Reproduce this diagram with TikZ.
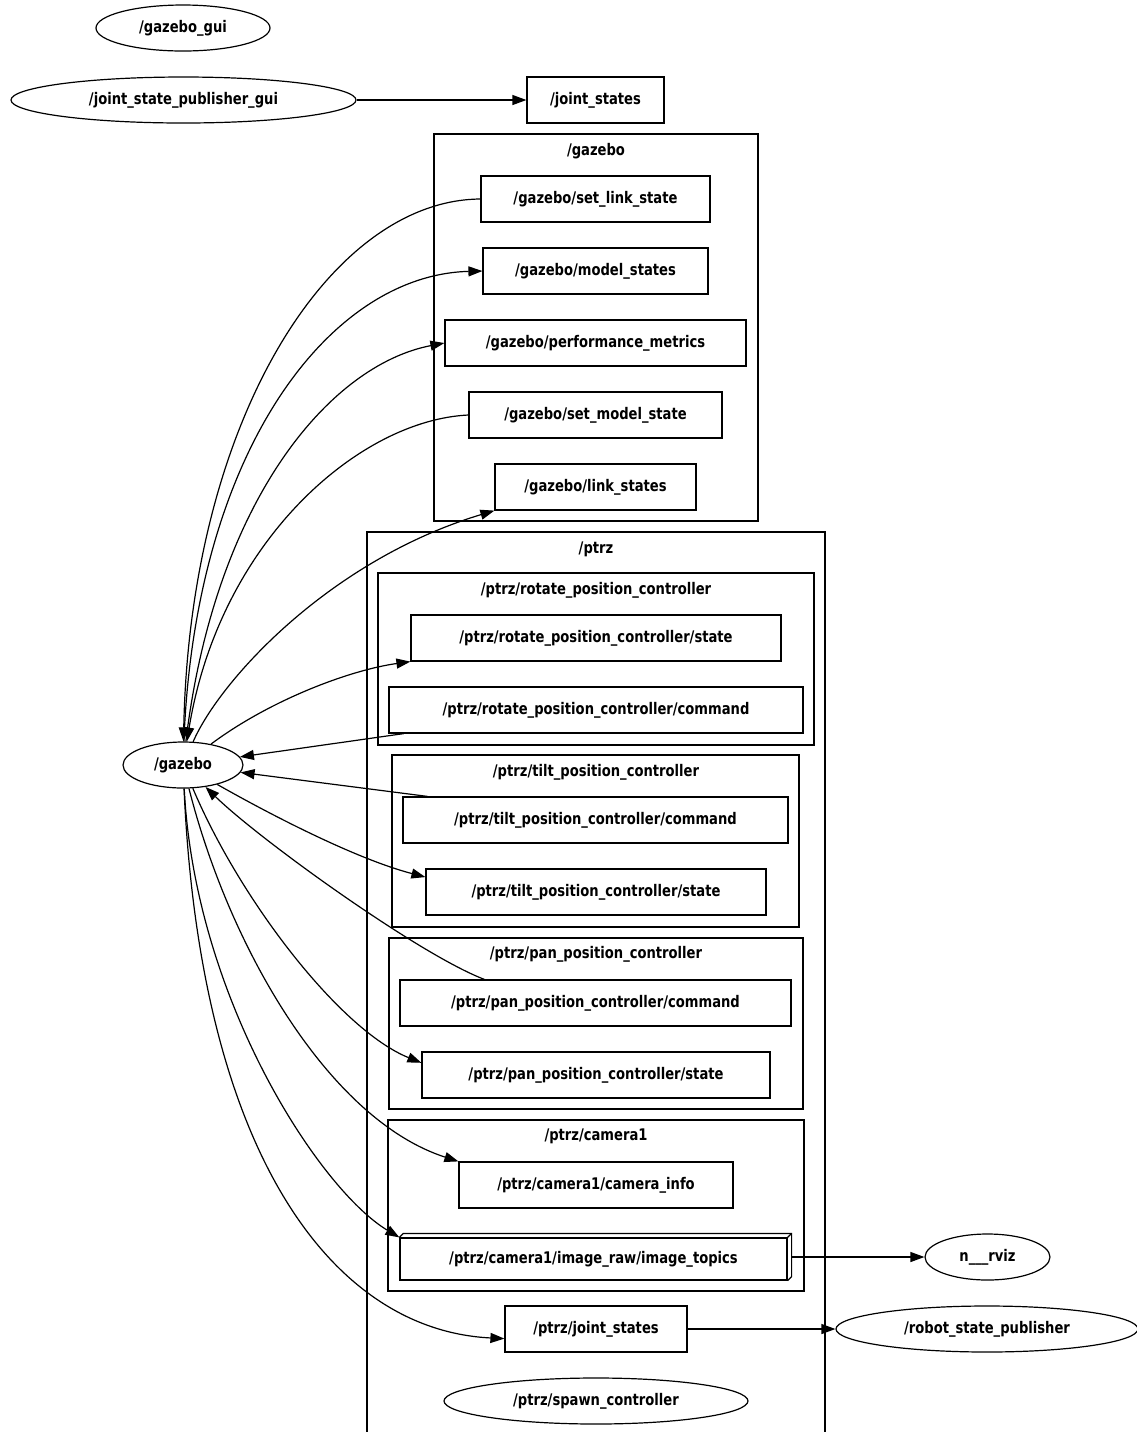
\documentclass[tikz,border=0pt]{standalone}
\usepackage{fontspec}
\setmainfont{DejaVu Sans}[FakeStretch=0.82]
\usetikzlibrary{shapes.geometric,arrows.meta}
\tikzset{
  lbl/.style={font=\fontsize{8}{9}\selectfont\bfseries},
  topic/.style={draw,rectangle,lbl,inner sep=0pt,minimum height=23pt},
  rosnode/.style={draw,ellipse,lbl,inner sep=0pt,minimum height=23pt},
  link/.style={-{Triangle[length=7pt,width=5pt]}},
}

\begin{document}
\begin{tikzpicture}[x=0.5pt,y=-0.5pt,line width=0.6pt]
  \useasboundingbox (0,0) rectangle (1137,1432);

  % clusters
  \draw (434,134) rectangle (758,521);
  \node[lbl] (cgazebo) at (596,151) {/gazebo};
  \draw (367,1432) |- (825,532) -- (825,1432);
  \node[lbl] (cptrz) at (596,549) {/ptrz};
  \draw (378,573) rectangle (814,745);
  \node[lbl] (crotate) at (596,590) {/ptrz/rotate\_position\_controller};
  \draw (392,755) rectangle (799,927);
  \node[lbl] (ctilt) at (596,772) {/ptrz/tilt\_position\_controller};
  \draw (389,938) rectangle (803,1109);
  \node[lbl] (cpan) at (596,954) {/ptrz/pan\_position\_controller};
  \draw (388,1120) rectangle (804,1291);
  \node[lbl] (ccam) at (596,1136) {/ptrz/camera1};

  % ros nodes
  \node[rosnode,minimum width=87pt] (ggui) at (183,28) {/gazebo\_gui};
  \node[rosnode,minimum width=172.5pt] (jspg) at (183.5,100) {/joint\_state\_publisher\_gui};
  \node[rosnode,minimum width=60pt] (gz) at (183,765) {/gazebo};
  \node[rosnode,minimum width=62.5pt] (rviz) at (987.5,1257) {n\_\_\_rviz};
  \node[rosnode,minimum width=151pt] (rsp) at (987,1329) {/robot\_state\_publisher};
  \node[rosnode,minimum width=152pt] (spawn) at (596,1401) {/ptrz/spawn\_controller};

  % topics
  \node[topic,minimum width=68.5pt] (js) at (595.5,100) {/joint\_states};
  \node[topic,minimum width=114.5pt] (slink) at (595.5,199) {/gazebo/set\_link\_state};
  \node[topic,minimum width=112.5pt] (mstates) at (595.5,271) {/gazebo/model\_states};
  \node[topic,minimum width=150.5pt] (perf) at (595.5,343) {/gazebo/performance\_metrics};
  \node[topic,minimum width=126.5pt] (smodel) at (595.5,415) {/gazebo/set\_model\_state};
  \node[topic,minimum width=100.5pt] (lstates) at (595.5,487) {/gazebo/link\_states};
  \node[topic,minimum width=185pt] (rstate) at (596,638) {/ptrz/rotate\_position\_controller/state};
  \node[topic,minimum width=207pt] (rcmd) at (596,710) {/ptrz/rotate\_position\_controller/command};
  \node[topic,minimum width=192.5pt] (tcmd) at (595.5,820) {/ptrz/tilt\_position\_controller/command};
  \node[topic,minimum width=170pt] (tstate) at (596,892) {/ptrz/tilt\_position\_controller/state};
  \node[topic,minimum width=195.5pt] (pcmd) at (595.5,1003) {/ptrz/pan\_position\_controller/command};
  \node[topic,minimum width=174pt] (pstate) at (596,1075) {/ptrz/pan\_position\_controller/state};
  \node[topic,minimum width=137pt] (cinfo) at (596,1185) {/ptrz/camera1/camera\_info};
  \node[topic,minimum width=193.5pt,minimum height=21pt] (imgt) at (593.5,1259) {/ptrz/camera1/image\_raw/image\_topics};
  \draw (imgt.north west) -- ++(4,-4) -| ([shift={(4,-4)}]imgt.south east) -- (imgt.south east);
  \draw (imgt.north east) -- ++(4,-4);
  \node[topic,minimum width=91pt] (pjs) at (596,1329) {/ptrz/joint\_states};

  % connections
  \draw[link] (jspg.east) -- (js.west);
  \draw[link] (slink.west) .. controls (330,200) and (190,420) .. (gz);
  \draw[link] (gz) .. controls (195,450) and (330,275) .. (mstates.west);
  \draw[link] (gz) .. controls (215,500) and (330,365) .. (perf.west);
  \draw[link] (smodel.west) .. controls (360,420) and (220,540) .. (gz);
  \draw[link] (gz) .. controls (220,680) and (330,560) .. (lstates.south west);
  \draw[link] (gz) .. controls (270,700) and (350,670) .. (rstate.south west);
  \draw[link] (rcmd.187) -- (gz);
  \draw[link] (tcmd.172) -- (gz);
  \draw[link] (gz) .. controls (280,820) and (360,860) .. (tstate.175);
  \draw[link] (pcmd.168) .. controls (420,955) and (260,840) .. (gz);
  \draw[link] (gz) .. controls (240,900) and (340,1030) .. (pstate.176);
  \draw[link] (gz) .. controls (230,950) and (330,1120) .. (cinfo.north west);
  \draw[link] (gz) .. controls (195,1000) and (320,1190) .. (imgt.north west);
  \draw[link] (gz) .. controls (200,1150) and (330,1330) .. (pjs.186);
  \draw[link] ([xshift=2pt,yshift=1pt]imgt.east) -- (rviz.west);
  \draw[link] (pjs.east) -- (rsp.west);
\end{tikzpicture}
\end{document}
